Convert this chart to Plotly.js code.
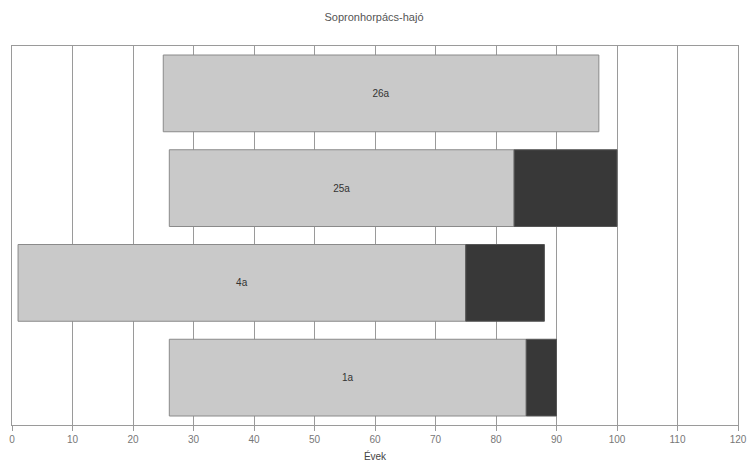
<!DOCTYPE html>
<html>
<head>
<meta charset="utf-8">
<script src="https://cdn.plot.ly/plotly-3.0.1.min.js"></script>
<style>html,body{margin:0;padding:0;background:#fff;}#chart{width:748px;height:462px;}</style>
</head>
<body>
<div id="chart"></div>
<script>
const categories = ['1a', '4a', '25a', '26a'];
const startYears = [26, 1, 26, 25];
const lightEnd = [85, 75, 83, 97];
const darkEnd = [90, 88, 100, null];
const xTicks = [0, 10, 20, 30, 40, 50, 60, 70, 80, 90, 100, 110, 120];

const lightLen = categories.map((c, i) => lightEnd[i] - startYears[i]);
const darkLen = categories.map((c, i) => darkEnd[i] === null ? null : darkEnd[i] - lightEnd[i]);

const fontFam = '"Liberation Sans Narrow", "Liberation Sans", Arial, sans-serif';

const traces = [
  {
    type: 'bar', orientation: 'h',
    y: categories, x: lightLen, base: startYears,
    width: 0.81,
    marker: {color: '#c9c9c9', line: {color: '#8a8a8a', width: 1}},
    text: categories, textposition: 'inside', insidetextanchor: 'middle',
    textfont: {family: fontFam, size: 10, color: '#333'},
    hoverinfo: 'none', showlegend: false
  },
  {
    type: 'bar', orientation: 'h',
    y: categories, x: darkLen, base: lightEnd,
    width: 0.81,
    marker: {color: '#383838', line: {color: '#555', width: 1}},
    hoverinfo: 'none', showlegend: false
  }
];

const layout = {
  width: 748, height: 462,
  margin: {l: 12, r: 10, t: 46, b: 37},
  paper_bgcolor: '#fff', plot_bgcolor: '#fff',
  barmode: 'overlay',
  title: {text: 'Sopronhorpács-hajó', x: 0.5, xanchor: 'center', y: 0.963, yanchor: 'middle',
          font: {family: fontFam, size: 11, color: '#555'}},
  xaxis: {
    range: [0, 120], tickvals: xTicks, ticktext: xTicks.map(String),
    showgrid: true, gridcolor: '#9a9a9a', gridwidth: 1,
    showline: true, linecolor: '#9a9a9a', linewidth: 1, mirror: true,
    ticks: 'outside', ticklen: 5, tickcolor: '#9a9a9a',
    zeroline: false, automargin: false,
    tickfont: {family: fontFam, size: 10, color: '#777'},
    title: {text: 'Évek', standoff: 8, font: {family: fontFam, size: 10, color: '#444'}}
  },
  yaxis: {
    type: 'category', categoryorder: 'array', categoryarray: categories,
    range: [-0.5, 3.5],
    showticklabels: false, ticks: '', showgrid: false,
    showline: true, linecolor: '#9a9a9a', linewidth: 1, mirror: true,
    zeroline: false
  }
};

Plotly.newPlot('chart', traces, layout, {displayModeBar: false, staticPlot: true});
</script>
</body>
</html>
